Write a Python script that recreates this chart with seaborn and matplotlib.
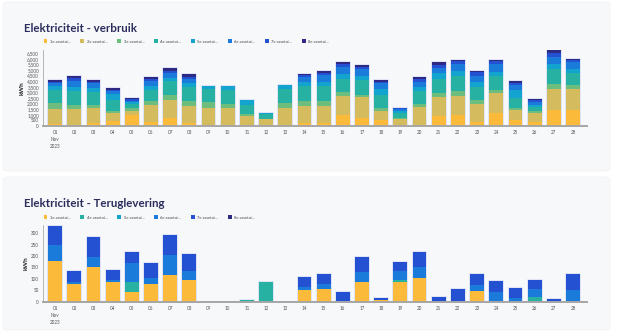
import matplotlib
matplotlib.use("Agg")
import matplotlib.pyplot as plt
from matplotlib.patches import FancyBboxPatch, Patch
from matplotlib.ticker import StrMethodFormatter
import seaborn as sns
import numpy as np

sns.set_style("white")
plt.rcParams['font.family'] = ['Lato', 'DejaVu Sans']

days = [f"{d:02d}" for d in range(1, 29)]
tick_labels = ["01\nNov\n2023"] + days[1:]

# Verbruik (kWh) per asset
verbruik_names = ["1e assetai...", "2e assetai...", "3e assetai...", "4e assetai...",
                  "5e assetai...", "6e assetai...", "7e assetai...", "8e assetai..."]
v1 = [150, 100, 250, 450, 950, 400, 750, 300, 50, 50, 0, 0, 0, 250, 250, 1000, 750, 500, 100, 100, 900, 1000, 400, 1150, 500, 400, 1450, 1400]
v2 = [1400, 1450, 1400, 700, 400, 1500, 1550, 1500, 1550, 1550, 850, 600, 1650, 1500, 1500, 1700, 1800, 850, 500, 1600, 1650, 1700, 1550, 1800, 900, 750, 1850, 1900]
v3 = [500, 300, 250, 200, 250, 350, 450, 400, 550, 350, 200, 50, 400, 450, 500, 350, 250, 300, 100, 250, 400, 450, 400, 300, 200, 150, 450, 350]
v4 = [1150, 1250, 1100, 950, 400, 1000, 1250, 1300, 1150, 1300, 850, 430, 1250, 1350, 1350, 1150, 1300, 1100, 450, 1150, 1250, 1350, 1150, 1250, 900, 400, 1350, 1100]
v5 = [350, 400, 400, 550, 100, 350, 300, 350, 280, 330, 380, 50, 340, 350, 350, 450, 400, 550, 200, 400, 500, 400, 450, 350, 700, 200, 400, 350]
v6 = [300, 500, 400, 300, 150, 400, 400, 350, 0, 0, 0, 0, 0, 450, 600, 600, 550, 550, 150, 400, 450, 650, 550, 700, 450, 250, 700, 600]
v7 = [100, 250, 150, 100, 150, 200, 250, 200, 0, 0, 0, 0, 0, 200, 200, 250, 250, 100, 80, 250, 300, 250, 300, 250, 200, 150, 300, 200]
v8 = [150, 250, 150, 100, 80, 200, 180, 200, 0, 0, 0, 0, 0, 130, 170, 190, 180, 110, 50, 210, 240, 130, 150, 100, 150, 100, 260, 120]
verbruik = [v1, v2, v3, v4, v5, v6, v7, v8]
verbruik_colors = ["#FBBA3A", "#D4BC5E", "#6CBD7E", "#26B1A2", "#12A4CE", "#1A7BDA", "#2450D2", "#2E2A84"]

# Teruglevering (kWh) per asset
terug_names = ["1e assetai...", "4e assetai...", "5e assetai...", "6e assetai...", "7e assetai...", "8e assetai..."]
t1 = [180, 79, 152, 84, 41, 78, 116, 94, 0, 0, 0, 0, 0, 51, 53, 0, 87, 5, 88, 104, 0, 0, 47, 0, 0, 0, 0, 0]
t4 = [0, 0, 0, 0, 47, 0, 0, 0, 0, 0, 8, 84, 0, 0, 0, 0, 0, 0, 6, 0, 0, 0, 0, 0, 0, 19, 0, 0]
t5 = [0] * 28
t6 = [68, 5, 43, 11, 81, 26, 91, 41, 0, 0, 0, 0, 0, 13, 22, 3, 41, 3, 39, 46, 3, 2, 25, 43, 16, 35, 2, 50]
t7 = [85, 49, 89, 43, 51, 65, 86, 73, 0, 0, 0, 0, 0, 45, 48, 40, 70, 7, 39, 68, 18, 52, 47, 49, 44, 40, 7, 73]
t8 = [0] * 28
terug = [t1, t4, t5, t6, t7, t8]
terug_colors = ["#FBBA3A", "#26B1A2", "#12A4CE", "#1A7BDA", "#2450D2", "#2E2A84"]

W, H = 620, 332
fig = plt.figure(figsize=(W / 100, H / 100), dpi=100)
fig.patch.set_facecolor("white")

def card(x0, y0, x1, y1):
    p = FancyBboxPatch((x0 / W, 1 - y1 / H), (x1 - x0) / W, (y1 - y0) / H,
                       boxstyle="round,pad=0,rounding_size=0.008",
                       transform=fig.transFigure, facecolor="#F7F8FA",
                       edgecolor="#F1F2F5", linewidth=0.6, zorder=-5)
    fig.patches.append(p)

card(3, 2, 610, 171)
card(3, 177, 610, 330)

def axes_px(x0, ytop, x1, ybot):
    return fig.add_axes([x0 / W, 1 - ybot / H, (x1 - x0) / W, (ybot - ytop) / H])

TITLE_COLOR = "#2B2D5C"
BAR_W = 0.72

def draw(ax, series, names, colors, ymax, yticks, title, title_y, legend_y):
    ax.set_facecolor("none")
    ax.set_zorder(2)
    totals = np.sum(np.array(series, dtype=float), axis=0)
    # light halo around every stacked bar
    sns.barplot(x=days, y=totals, order=days, color="#D8DDF5", width=BAR_W,
                errorbar=None, ax=ax, edgecolor="#D8DDF5", linewidth=1.1,
                saturation=1)
    bottom = np.zeros(len(days))
    for vals, name, col in zip(series, names, colors):
        v = np.array(vals, dtype=float)
        sns.barplot(x=days, y=v, order=days, color=col,
                    width=BAR_W, bottom=bottom, errorbar=None, ax=ax,
                    linewidth=0, saturation=1)
        bottom = bottom + v
    ax.set_xlim(-0.63, 27.73)
    ax.set_ylim(0, ymax)
    ax.set_yticks(yticks)
    ax.yaxis.set_major_formatter(StrMethodFormatter("{x:,.0f}"))
    ax.set_xticks(range(len(days)))
    ax.set_xticklabels(tick_labels, linespacing=1.5)
    ax.tick_params(axis="y", labelsize=3.3, colors="#666666", length=1.8, width=0.4, pad=1)
    ax.tick_params(axis="x", labelsize=3.3, colors="#666666", length=1.5, width=0.4, pad=1.5)
    for lab in ax.get_xticklabels() + ax.get_yticklabels():
        lab.set_color("#555555")
    for s in ["top", "right"]:
        ax.spines[s].set_visible(False)
    ax.spines["left"].set_color("#9A9A9A")
    ax.spines["left"].set_linewidth(0.5)
    ax.spines["bottom"].set_color("#A6A6A6")
    ax.spines["bottom"].set_linewidth(1.4)
    ax.spines["bottom"].set_zorder(5)
    ax.set_xlabel("")
    ax.set_ylabel("kWh", fontsize=4.6, color="#222222", labelpad=2, fontweight="bold")
    fig.text(24 / W, 1 - title_y / H, title, fontsize=8.3, fontweight="bold",
             color=TITLE_COLOR, va="center", ha="left")
    handles = [Patch(facecolor=c, edgecolor="none") for c in colors]
    fig.legend(handles, names, loc="center left",
               bbox_to_anchor=(43.5 / W, 1 - legend_y / H), ncol=len(names),
               frameon=False, fontsize=3.0, handlelength=0.9, handleheight=0.9,
               handletextpad=0.6, columnspacing=2.4, borderaxespad=0, borderpad=0,
               labelcolor="#444444")

ax1 = axes_px(43, 50, 587, 126)
draw(ax1, verbruik, verbruik_names, verbruik_colors, 6780,
     list(range(0, 6501, 500)), "Elektriciteit - verbruik", 28, 41.5)

ax2 = axes_px(43, 225, 587, 301.5)
draw(ax2, terug, terug_names, terug_colors, 337,
     list(range(0, 301, 50)), "Elektriciteit - Teruglevering", 203, 217.5)

fig.savefig("out.png", dpi=100, facecolor="white")
